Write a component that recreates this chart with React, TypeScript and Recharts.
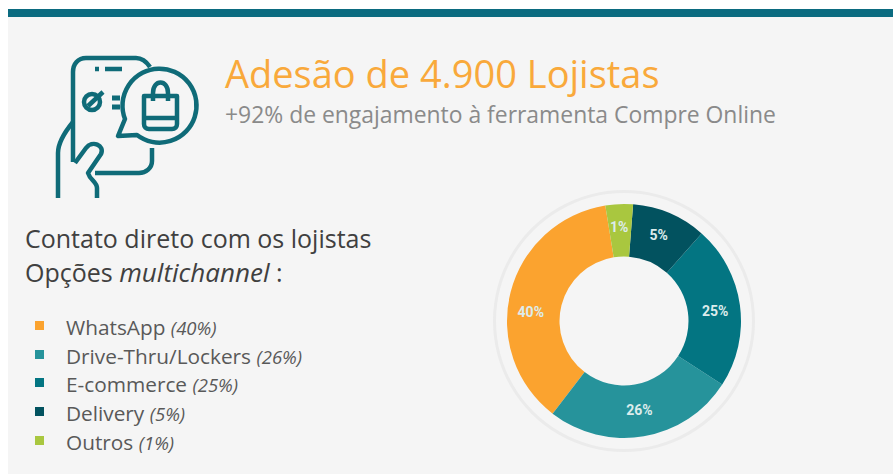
import { Cell, Pie, PieChart } from "recharts";

const categories = ["WhatsApp", "Drive-Thru/Lockers", "E-commerce", "Delivery", "Outros"];
// printed percentages, the slices in the picture are not drawn to these
const printedShares = ["40%", "26%", "25%", "5%", "1%"];
// share of the ring each slice takes in the picture
const drawnShares = [37, 26.3, 22.6, 10.3, 3.8];
const colors = ["#fba32f", "#26939b", "#037582", "#02525f", "#a9c73f"];

const data = categories.map((name, i) => ({ name, value: drawnShares[i] }));

// the labels do not sit on the slice middles in the picture
const labelNudge = [
  [-5, 13],
  [0, -1],
  [1, 2],
  [-1, -2],
  [-1, -3],
];

const RADIAN = Math.PI / 180;

function renderLabel({ cx, cy, midAngle, index }: any) {
  const r = 91;
  const x = cx + r * Math.cos(-midAngle * RADIAN) + labelNudge[index][0];
  const y = cy + r * Math.sin(-midAngle * RADIAN) + labelNudge[index][1];
  return (
    <text
      x={x}
      y={y}
      fill="#dcecec"
      textAnchor="middle"
      dominantBaseline="central"
      fontFamily="Roboto"
      fontSize={14}
      fontWeight={700}
    >
      {printedShares[index]}
    </text>
  );
}

function Icon() {
  return (
    <svg
      width={180}
      height={170}
      style={{ position: "absolute", left: 40, top: 40 }}
      fill="none"
      stroke="#0f6b78"
      strokeWidth={4.5}
      strokeLinejoin="round"
    >
      <path d="M110 27 C106 21 102 18 96 18 L46 18 C38 18 33 24 33 32 L33 122" />
      <path d="M112 108 L112 121 C112 128 106 133 99 133 L55 133" />
      <path d="M55 29 L59 29 M65 29 L82 29" />
      <circle cx={52} cy={62} r={8} />
      <path d="M48 66 L63 52" />
      <path d="M72 58 L80 58 M72 67 L80 67" strokeWidth={5} />
      <path d="M85 79 L78 96 L97 95 A37 37 0 1 0 85 79 Z" />
      <path d="M104 56 L137 56 L137 84 C137 87 135 89 132 89 L109 89 C106 89 104 87 104 84 Z" />
      <path d="M104 78 L137 78" />
      <path d="M113 61 L113 53 C113 39 128 39 128 53 L128 61" />
      <path d="M33 82 C24 93 18 103 18 113 L18 158" />
      <path d="M35 123 L46 108 C52 100 65 105 61 114 L48 133 C50 140 57 142 57 148 L57 158" />
    </svg>
  );
}

const textBase = { position: "absolute", whiteSpace: "nowrap", fontFamily: "'Open Sans'" } as const;

export default function App() {
  return (
    <div
      style={{
        position: "absolute",
        left: 0,
        top: 0,
        width: 893,
        height: 474,
        background: "#ffffff",
        overflow: "hidden",
      }}
    >
      <div style={{ position: "absolute", left: 8, top: 9, width: 885, height: 465, background: "#f5f5f5" }} />
      <div style={{ position: "absolute", left: 8, top: 9, width: 885, height: 8, background: "#0b6b80" }} />
      <Icon />

      <div style={{ ...textBase, left: 225, top: 47, fontSize: 38, lineHeight: "52px", color: "#f9a93b" }}>
        Adesão de 4.900 Lojistas
      </div>
      <div style={{ ...textBase, left: 225, top: 100, fontSize: 22.9, lineHeight: "30px", color: "#8a8a8a" }}>
        +92% de engajamento à ferramenta Compre Online
      </div>

      <div style={{ ...textBase, left: 25, top: 223, fontSize: 25, lineHeight: "30px", color: "#404040" }}>
        Contato direto com os lojistas
      </div>
      <div style={{ ...textBase, left: 25, top: 257, fontSize: 25, lineHeight: "30px", color: "#404040" }}>
        Opções <i style={{ fontSize: 26 }}>multichannel</i> :
      </div>

      {categories.map((name, i) => (
        <div key={name}>
          <div
            style={{
              position: "absolute",
              left: 35,
              top: 321 + i * 28.7,
              width: 9,
              height: 9,
              background: colors[i],
            }}
          />
          <div style={{ ...textBase, left: 66, top: 313 + i * 28.7, fontSize: 20.8, lineHeight: "28px", color: "#595959" }}>
            {name} <i style={{ fontSize: 18.5 }}>({printedShares[i]})</i>
          </div>
        </div>
      ))}

      <div style={{ position: "absolute", left: 474, top: 171 }}>
        <PieChart width={300} height={300} margin={{ top: 0, right: 0, bottom: 0, left: 0 }}>
          <Pie
            data={[{ name: "ring", value: 1 }]}
            dataKey="value"
            cx={150}
            cy={150}
            innerRadius={128}
            outerRadius={131}
            fill="#ebebeb"
            stroke="none"
            isAnimationActive={false}
          />
          <Pie
            data={data}
            dataKey="value"
            nameKey="name"
            cx={150}
            cy={150}
            innerRadius={64.5}
            outerRadius={117}
            startAngle={99.2}
            endAngle={459.2}
            stroke="none"
            label={renderLabel}
            labelLine={false}
            isAnimationActive={false}
          >
            {data.map((item, i) => (
              <Cell key={item.name} fill={colors[i]} />
            ))}
          </Pie>
        </PieChart>
      </div>
    </div>
  );
}
